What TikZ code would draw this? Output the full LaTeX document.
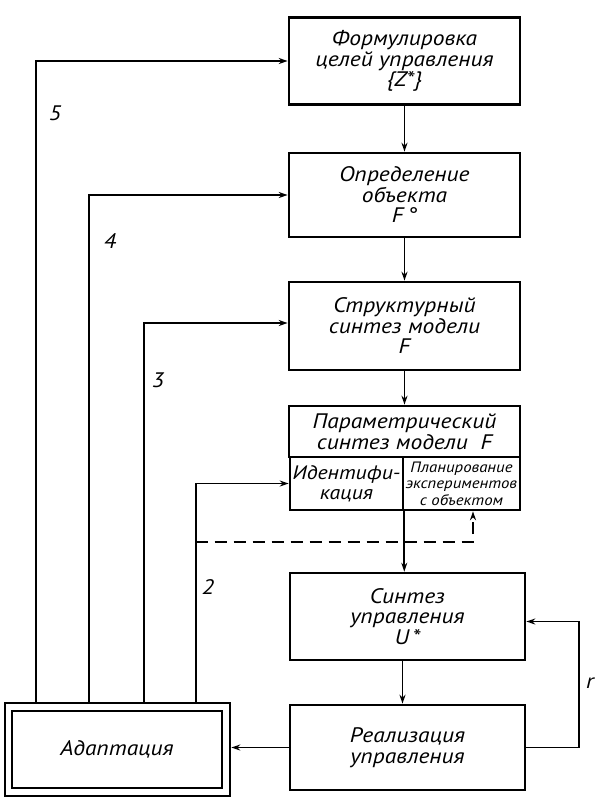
\documentclass[tikz,border=0pt]{standalone}
\usepackage{fontspec}
\setmainfont{PT Sans}[FakeStretch=1.12]
\usetikzlibrary{arrows.meta,calc}
\begin{document}
\begin{tikzpicture}[x=1pt,y=-1pt,
  box/.style={draw, line width=2.6pt, inner sep=0pt, align=center,
    font=\fontsize{21}{20.5}\selectfont\itshape},
  mid/.style={font=\fontsize{19.5}{20}\selectfont\itshape},
  small/.style={font=\fontsize{15}{16.5}\selectfont\itshape},
  conn/.style={line width=1.7pt, -{Stealth[length=9pt,width=6pt]}},
  lbl/.style={font=\fontsize{21}{21}\selectfont\itshape}]
\useasboundingbox (0,0) rectangle (611,812);

\node[box, minimum width=231pt, minimum height=87pt] (b1) at (404.5,61)
  {Формулировка\\целей управления\\\{Z*\}};
\node[box, minimum width=231pt, minimum height=84pt] (b2) at (404.5,195)
  {Определение\\объекта\\F\,°};
\node[box, minimum width=231pt, minimum height=88pt] (b3) at (404.5,326)
  {Структурный\\синтез модели\\F};
\node[box, minimum width=231pt, minimum height=51pt] (b4) at (404.5,431.5)
  {Параметрический\\синтез модели~~F};
\node[box, mid, minimum width=113pt, minimum height=53pt] (ident) at (346.5,483.5)
  {Идентифи-\\кация};
\node[box, small, minimum width=117pt, minimum height=53pt] (plan) at (461.5,483.5)
  {Планирование\\экспериментов\\с объектом};
\node[box, minimum width=235pt, minimum height=87pt] (b5) at (407.5,616.5)
  {Синтез\\управления\\U\,*};
\node[box, minimum width=235pt, minimum height=85pt] (b6) at (407.5,747.5)
  {Реализация\\управления};
\node[draw, line width=2.6pt, minimum width=225pt, minimum height=93pt] (adapt) at (117.5,749.5) {};
\node[box, line width=1.8pt, minimum width=210pt, minimum height=77pt] (adaptin) at (117,749.5)
  {Адаптация};

\coordinate (s5) at ($(adapt.north west)+(32,0)$);
\coordinate (s4) at ($(adapt.north west)+(85,0)$);
\coordinate (s3) at ($(adapt.north west)+(140,0)$);
\coordinate (s2) at ($(adapt.north west)+(192,0)$);
\coordinate (d0) at ($(s2)+(0,-160)$);

\draw[conn] (b1.south) -- (b2.north);
\draw[conn] (b2.south) -- (b3.north);
\draw[conn] (b3.south) -- (b4.north);
\draw[conn] (ident.south east) -- (ident.south east |- b5.north);
\draw[conn] ([xshift=-5pt]b5.south) -- ([xshift=-5pt]b6.north);
\draw[conn] (b6.east) -- ++(53,0) |- ([yshift=-5pt]b5.east);
\draw[conn] (b6.west) -- (b6.west -| adapt.east);

\draw[conn] (s5) |- (b1.west);
\draw[conn] (s4) |- (b2.west);
\draw[conn] (s3) |- ([yshift=3pt]b3.west);
\draw[conn] (s2) |- (ident.west);
\draw[conn, dash pattern=on 12pt off 7pt] (d0) -| ([xshift=11.5pt]plan.south);

\node[lbl] (l5) at (55,113) {5};
\node[lbl] (l4) at (110,241) {4};
\node[lbl] (l3) at (158,380) {3};
\node[lbl] (l2) at (208,587) {2};
\node[lbl] (lr) at (590,683) {r};
\end{tikzpicture}
\end{document}
